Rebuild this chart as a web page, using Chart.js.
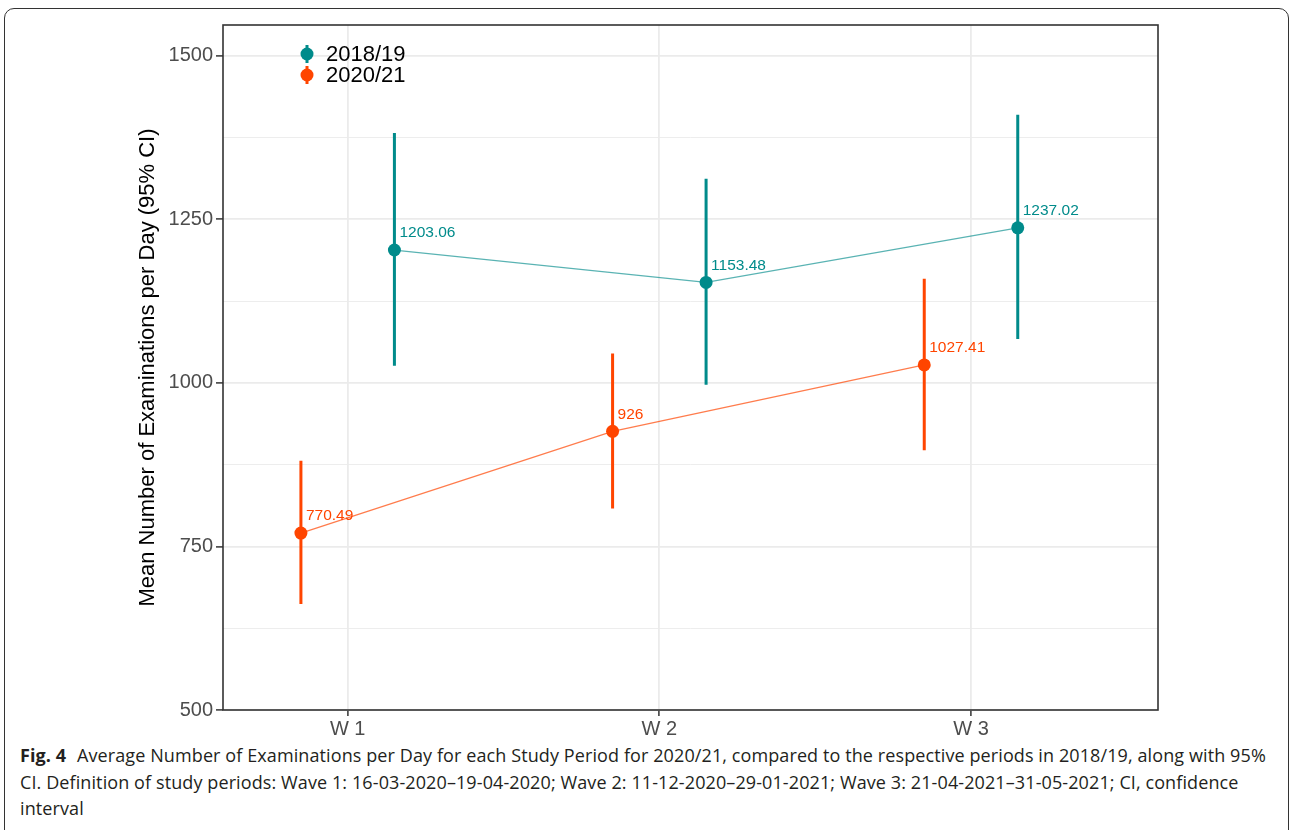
<!DOCTYPE html>
<html>
<head>
<meta charset="utf-8">
<script src="https://cdn.jsdelivr.net/npm/chart.js@4.4.1/dist/chart.umd.min.js"></script>
<style>
    html, body { margin: 0; padding: 0; background: #fff; }
    body { width: 1290px; height: 830px; position: relative; overflow: hidden; }
    #frame {
        position: absolute; left: 4px; top: 8px; width: 1285px; height: 840px;
        border: 1.5px solid #333; border-radius: 10px; box-sizing: border-box;
    }
    #chart-wrap { position: absolute; left: 0; top: 0; width: 1290px; height: 740px; }
    #caption {
        position: absolute; left: 20px; top: 742px; width: 1268px;
        font-family: "Open Sans", "Noto Sans", sans-serif; font-size: 18px;
        letter-spacing: 0.1px; line-height: 26.5px; color: #231f20; white-space: nowrap;
    }
    #caption b { font-weight: 700; margin-right: 6px; }
</style>
</head>
<body>
<div id="frame"></div>
<div id="chart-wrap"><canvas id="fig4"></canvas></div>
<div id="caption"><b>Fig. 4</b> Average Number of Examinations per Day for each Study Period for 2020/21, compared to the respective periods in 2018/19, along with 95%<br>CI. Definition of study periods: Wave 1: 16-03-2020–19-04-2020; Wave 2: 11-12-2020–29-01-2021; Wave 3: 21-04-2021–31-05-2021; CI, confidence<br>interval</div>
<script>
/* Fig. 4 — mean examinations per day by wave, 2018/19 vs 2020/21 */
(function () {
    "use strict";

    var waves = ["W 1", "W 2", "W 3"];
    var seriesNames = ["2018/19", "2020/21"];
    var seriesColors = ["#008b8b", "#ff4500"];
    var lineColors = ["rgba(0,139,139,0.65)", "rgba(255,69,0,0.7)"];

    // means and 95% CI bounds
    var mean1819 = [1203.06, 1153.48, 1237.02];
    var low1819 = [1026, 997, 1067];
    var high1819 = [1382, 1312, 1410];

    var mean2021 = [770.49, 926, 1027.41];
    var low2021 = [662, 808, 897];
    var high2021 = [881, 1045, 1159];

    var dodge = [0.15, -0.15];   // position_dodge offset per series
    var yTicks = [500, 625, 750, 875, 1000, 1125, 1250, 1375, 1500];
    var yLabelTicks = [500, 750, 1000, 1250, 1500];

    var means = [mean1819, mean2021];
    var lows = [low1819, low2021];
    var highs = [high1819, high2021];

    var FONT = "'Liberation Sans', Arial, sans-serif";

    function isMajor(v) { return yLabelTicks.indexOf(v) !== -1; }

    function errorBarData(s) {
        var out = [];
        waves.forEach(function (w, i) {
            var x = i + 1 + dodge[s];
            out.push({ x: x, y: lows[s][i] });
            out.push({ x: x, y: highs[s][i] });
            out.push({ x: x, y: null });
        });
        return out;
    }

    function meanData(s) {
        return means[s].map(function (v, i) { return { x: i + 1 + dodge[s], y: v }; });
    }

    var datasets = [];
    [0, 1].forEach(function (s) {
        datasets.push({
            label: seriesNames[s] + " CI",
            data: errorBarData(s),
            borderColor: seriesColors[s],
            borderWidth: 3,
            pointRadius: 0,
            spanGaps: false,
            borderCapStyle: "butt"
        });
    });
    [0, 1].forEach(function (s) {
        datasets.push({
            label: seriesNames[s],
            data: meanData(s),
            borderColor: lineColors[s],
            borderWidth: 1.3,
            pointRadius: 6.5,
            pointBorderWidth: 0,
            pointBackgroundColor: seriesColors[s],
            isMean: true,
            seriesIdx: s
        });
    });

    var panelPlugin = {
        id: "panel",
        afterDatasetsDraw: function (chart) {
            var ctx = chart.ctx;
            ctx.save();
            ctx.font = "15.5px " + FONT;
            ctx.textAlign = "left";
            ctx.textBaseline = "middle";
            chart.data.datasets.forEach(function (ds, di) {
                if (!ds.isMean) return;
                var meta = chart.getDatasetMeta(di);
                ctx.fillStyle = seriesColors[ds.seriesIdx];
                meta.data.forEach(function (pt, j) {
                    ctx.fillText(String(means[ds.seriesIdx][j]), pt.x + 5, pt.y - 17);
                });
            });
            ctx.restore();
        },
        afterDraw: function (chart) {
            var ctx = chart.ctx;
            var a = chart.chartArea;
            ctx.save();
            ctx.strokeStyle = "#333333";
            ctx.lineWidth = 1.6;
            ctx.strokeRect(a.left, a.top, a.right - a.left, a.bottom - a.top);

            // legend, top-left inside the panel
            ctx.font = "22px " + FONT;
            ctx.textBaseline = "middle";
            ctx.textAlign = "left";
            seriesNames.forEach(function (name, s) {
                var lx = a.left + 84, ly = a.top + 29 + s * 21;
                ctx.strokeStyle = seriesColors[s];
                ctx.lineWidth = 3;
                ctx.beginPath();
                ctx.moveTo(lx, ly - 9);
                ctx.lineTo(lx, ly + 9);
                ctx.stroke();
                ctx.fillStyle = seriesColors[s];
                ctx.beginPath();
                ctx.arc(lx, ly, 6.5, 0, Math.PI * 2);
                ctx.fill();
                ctx.fillStyle = "#000";
                ctx.fillText(name, lx + 19, ly + 1);
            });
            ctx.restore();
        }
    };

    new Chart(document.getElementById("fig4").getContext("2d"), {
        type: "line",
        data: { datasets: datasets },
        plugins: [panelPlugin],
        options: {
            responsive: true,
            maintainAspectRatio: false,
            animation: false,
            layout: { padding: { top: 25, right: 132, left: 0, bottom: 0 } },
            plugins: { legend: { display: false }, tooltip: { enabled: false } },
            scales: {
                x: {
                    type: "linear",
                    min: 0.6,
                    max: 3.6,
                    afterBuildTicks: function (scale) {
                        scale.ticks = waves.map(function (w, i) { return { value: i + 1 }; });
                    },
                    afterFit: function (scale) { scale.height = 30; },
                    border: { display: false },
                    grid: {
                        color: "#ebebeb",
                        lineWidth: 1.8,
                        tickColor: "#333333",
                        tickLength: 6,
                        tickWidth: 1.5
                    },
                    ticks: {
                        color: "#4d4d4d",
                        font: { family: FONT, size: 20 },
                        padding: 1,
                        maxRotation: 0,
                        callback: function (v) { return waves[v - 1]; }
                    }
                },
                y: {
                    type: "linear",
                    min: 500,
                    max: 1547,
                    afterBuildTicks: function (scale) {
                        scale.ticks = yTicks.map(function (v) { return { value: v }; });
                    },
                    afterFit: function (scale) { scale.width = 223; },
                    border: { display: false },
                    grid: {
                        color: "#ebebeb",
                        lineWidth: function (c) { return isMajor(c.tick.value) ? 1.8 : 0.9; },
                        tickColor: function (c) { return isMajor(c.tick.value) ? "#333333" : "rgba(0,0,0,0)"; },
                        tickLength: 7,
                        tickWidth: 1.5
                    },
                    ticks: {
                        color: "#4d4d4d",
                        font: { family: FONT, size: 20 },
                        padding: 3,
                        callback: function (v) { return isMajor(v) ? String(v) : ""; }
                    },
                    title: {
                        display: true,
                        text: "Mean Number of Examinations per Day (95% CI)",
                        color: "#000",
                        font: { family: FONT, size: 22 },
                        padding: { top: 135, bottom: 0 }
                    }
                }
            }
        }
    });
})();
</script>
</body>
</html>
